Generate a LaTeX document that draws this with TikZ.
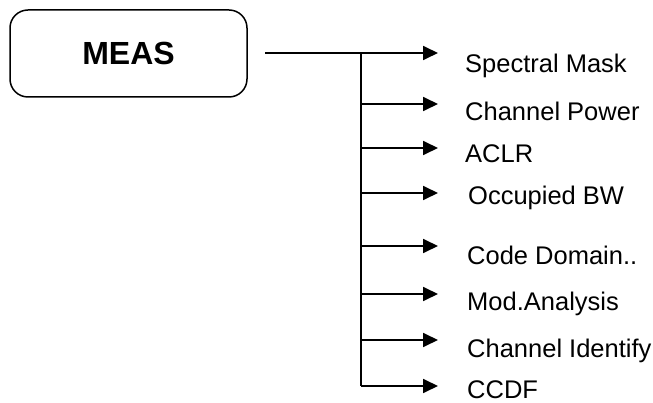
\documentclass[tikz,border=0pt]{standalone}
\usepackage{fontspec}
\setmainfont{Liberation Sans}
\usetikzlibrary{arrows.meta}
\usetikzlibrary{positioning}

\tikzset{
    menubox/.style={draw, rounded corners=18pt, line width=1.5pt, minimum width=237pt, minimum height=87pt, font=\fontsize{32}{36}\selectfont\bfseries},
    branch/.style={line width=1.8pt, -{Triangle[length=15pt,width=14pt]}},
    item/.style={anchor=base west, inner sep=0pt, font=\fontsize{25.5}{28}\selectfont}
}

\begin{document}
\begin{tikzpicture}[x=1pt,y=-1pt]
        \useasboundingbox (0,0) rectangle (653,403);
        \node[menubox] (meas) at (128.5,53.5) {MEAS};
        \coordinate (start) at (265,53);
        \coordinate (top) at (361,53);
        \coordinate (bottom) at (361,386);
        \draw[line width=1.8pt] (top) -- (bottom);
        \foreach \i/\y/\ly/\lx/\txt in {1/53/73/465/Spectral Mask,
                                        2/104/121/465/Channel Power,
                                        3/148/163/465/ACLR,
                                        4/193/205/468/Occupied BW,
                                        5/246/265/467/Code Domain..,
                                        6/294/310/467/Mod.Analysis,
                                        7/340/357/467/Channel Identify,
                                        8/386/398.5/467/CCDF}
        {
            \coordinate (b\i) at (361,\y);
            \coordinate (t\i) at (438,\y);
            \node[item] (l\i) at (\lx,\ly) {\txt};
        }
        \draw[branch] (start) -- (t1);
        \foreach \i in {2,...,8}
            \draw[branch] (b\i) -- (t\i);
    \end{tikzpicture}
\end{document}
